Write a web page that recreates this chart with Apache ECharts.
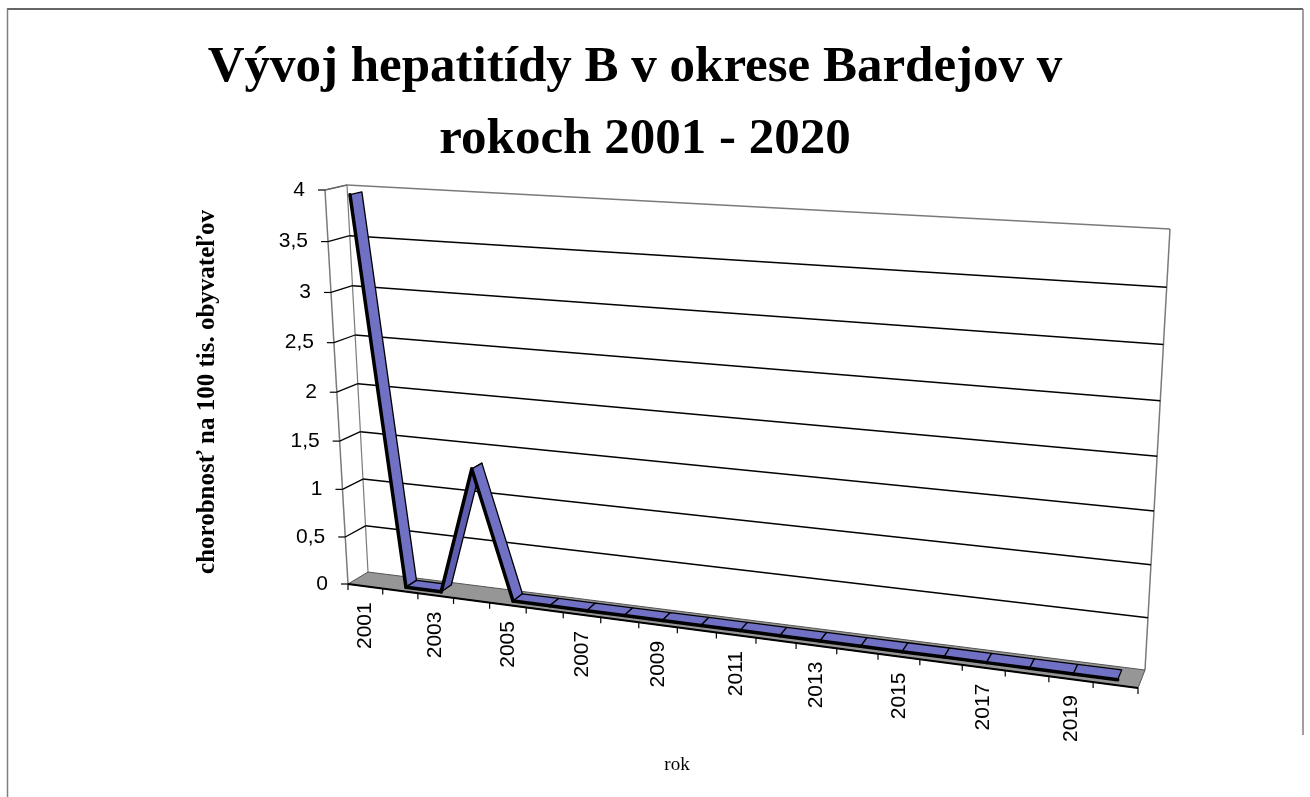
<!DOCTYPE html>
<html><head><meta charset="utf-8">
<script src="https://cdn.jsdelivr.net/npm/echarts@6/dist/echarts.min.js"></script>
<style>html,body{margin:0;padding:0;background:#fff}#c{width:1310px;height:797px}</style>
</head><body><div id="c"></div>
<script>
// ---------- data ----------
const years = ['2001','2002','2003','2004','2005','2006','2007','2008','2009','2010',
               '2011','2012','2013','2014','2015','2016','2017','2018','2019','2020'];
const values = [3.95, 0, 0, 1.32, 0, 0, 0, 0, 0, 0, 0, 0, 0, 0, 0, 0, 0, 0, 0, 0];
const yTickValues = [0, 0.5, 1, 1.5, 2, 2.5, 3, 3.5, 4];
const yTickLabels = ['0', '0,5', '1', '1,5', '2', '2,5', '3', '3,5', '4'];
const titleLines = ['Vývoj hepatitídy B v okrese Bardejov v', 'rokoch 2001 - 2020'];
const yAxisName = 'chorobnosť na 100 tis. obyvateľov';
const xAxisName = 'rok';

// ---------- perspective layout (front plane / back wall corners) ----------
const FRONT = {p00:[348,584], p10:[1138,688], p11:[1161,240], p01:[325,190]};
const BACK  = {p00:[368,572], p10:[1145,670], p11:[1170,229], p01:[347,185]};
const RIB_D0 = 0.3, RIB_D1 = 0.85;

function homography(q){
  const [x0,y0]=q.p00,[x1,y1]=q.p10,[x2,y2]=q.p11,[x3,y3]=q.p01;
  const sx=x0-x1+x2-x3, sy=y0-y1+y2-y3;
  const dx1=x1-x2, dx2=x3-x2, dy1=y1-y2, dy2=y3-y2;
  const det=dx1*dy2-dx2*dy1;
  const g=(sx*dy2-dx2*sy)/det, h=(dx1*sy-sx*dy1)/det;
  const a=x1-x0+g*x1, b=x3-x0+h*x3, c=x0, d=y1-y0+g*y1, e=y3-y0+h*y3, f=y0;
  return (u,v)=>{const w=g*u+h*v+1; return [(a*u+b*v+c)/w,(d*u+e*v+f)/w];};
}
const Hf = homography(FRONT), Hb = homography(BACK);
function P(u,v,d){ const a=Hf(u,v), b=Hb(u,v); return [a[0]+(b[0]-a[0])*d, a[1]+(b[1]-a[1])*d]; }

// map a data point through the (hidden) cartesian scales to unit coordinates
function unitOf(api, cat, val){
  const bw = api.size([1,0])[0];
  const c0 = api.coord([0, 0]);
  const left = c0[0] - bw/2, W = bw*years.length;
  const bottom = c0[1], top = api.coord([0, yTickValues[yTickValues.length-1]])[1];
  const p = api.coord([cat, val]);
  return {u:(p[0]-left)/W, v:(bottom-p[1])/(bottom-top), half:0.5/years.length};
}
const line = (a,b,stroke,lw)=>({type:'line',shape:{x1:a[0],y1:a[1],x2:b[0],y2:b[1]},style:{stroke:stroke,lineWidth:lw}});
const SANS = '"Liberation Sans", Arial, sans-serif';
const SERIF = '"Liberation Serif", "Times New Roman", serif';

const chart = echarts.init(document.getElementById('c'), null, {renderer:'canvas'});
chart.setOption({
  animation:false,
  backgroundColor:'#fff',
  grid:{left:100,right:100,top:100,bottom:100},
  xAxis:{type:'category',data:years,show:false},
  yAxis:{type:'value',min:0,max:4,interval:0.5,show:false},
  graphic:[
    {type:'line',shape:{x1:7,y1:9,x2:1303,y2:9},style:{stroke:'#333',lineWidth:1.5}},
    {type:'line',shape:{x1:7.5,y1:9,x2:7.5,y2:797},style:{stroke:'#808080',lineWidth:1.5}},
    {type:'line',shape:{x1:1303,y1:9,x2:1303,y2:735},style:{stroke:'#808080',lineWidth:1.5}},
    {type:'text',x:635,y:68,style:{text:titleLines[0],font:'bold 51px '+SERIF,fill:'#000',textAlign:'center',textVerticalAlign:'middle',align:'center',verticalAlign:'middle'}},
    {type:'text',x:645,y:140,style:{text:titleLines[1],font:'bold 51px '+SERIF,fill:'#000',textAlign:'center',textVerticalAlign:'middle',align:'center',verticalAlign:'middle'}},
    {type:'text',x:208,y:392,rotation:Math.PI/2,style:{text:yAxisName,font:'bold 25px '+SERIF,fill:'#000',textAlign:'center',textVerticalAlign:'middle',align:'center',verticalAlign:'middle'}},
    {type:'text',x:677,y:765,style:{text:xAxisName,font:'19px '+SERIF,fill:'#000',textAlign:'center',textVerticalAlign:'middle',align:'center',verticalAlign:'middle'}}
  ],
  series:[
    { // walls frame
      type:'custom', z:1, silent:true, clip:false,
      data:[[0,0]],
      renderItem:function(params, api){
        const g='#7a7a7a';
        return {type:'group',children:[
          line(P(0,1,0),P(0,1,1),g,1.2),
          line(P(0,1,1),P(0,0,1),g,1.2),
          line(P(0,1,1),P(1,1,1),g,1.5),
          line(P(1,1,1),P(1,0,1),g,1.5),
          line(P(0,1,0),P(0,0,0),g,1.5)
        ]};
      }
    },
    { // value gridlines, ticks and labels
      type:'custom', z:2, silent:true, clip:false,
      data:yTickValues.map(v=>[0,v]),
      renderItem:function(params, api){
        const t = unitOf(api, 0, api.value(1));
        const v = t.v;
        const ch = [];
        const f = P(0,v,0);
        if (v > 0.001 && v < 0.999){
          ch.push(line(P(0,v,1),P(1,v,1),'#000',1.5));
          ch.push(line(f,P(0,v,1),'#000',1.3));
        } else if (v >= 0.999){
          ch.push(line(f,P(0,v,1),'#666',1.3));
        }
        ch.push(line(f,[f[0]-7,f[1]],'#000',1.2));
        ch.push({type:'text',x:f[0]-20,y:f[1],style:{text:yTickLabels[params.dataIndex],font:'21px '+SANS,fill:'#000',
          textAlign:'right',textVerticalAlign:'middle',align:'right',verticalAlign:'middle'}});
        return {type:'group',children:ch};
      }
    },
    { // floor
      type:'custom', z:3, silent:true, clip:false,
      data:[[0,0]],
      renderItem:function(params, api){
        const a=P(0,0,0), b=P(1,0,0), c=P(1,0,1), d=P(0,0,1);
        return {type:'group',children:[
          {type:'polygon',shape:{points:[a,b,c,d]},style:{fill:'#969696',stroke:'#555',lineWidth:1}},
          line(a,b,'#000',2)
        ]};
      }
    },
    { // ribbon (3D line)
      type:'custom', z:4, silent:true, clip:false,
      data:values.slice(0,-1).map((v,i)=>[i,v,values[i+1]]),
      renderItem:function(params, api){
        const i = api.value(0);
        const A = unitOf(api, i, api.value(1));
        const B = unitOf(api, i+1, api.value(2));
        const a0=P(A.u,A.v,RIB_D0), b0=P(B.u,B.v,RIB_D0), b1=P(B.u,B.v,RIB_D1), a1=P(A.u,A.v,RIB_D1);
        const rising = B.v > A.v + 1e-6;
        return {type:'group',children:[
          {type:'polygon',shape:{points:[a0,b0,b1,a1]},style:{fill:rising?'#5e5eb0':'#7070c4',stroke:'#000',lineWidth:1.3,lineJoin:'round'}},
          {type:'line',shape:{x1:a0[0],y1:a0[1],x2:b0[0],y2:b0[1]},style:{stroke:'#000',lineWidth:3.5,lineCap:'round'}}
        ]};
      }
    },
    { // category axis: ticks + labels on the front floor edge
      type:'custom', z:5, silent:true, clip:false,
      data:years.map((y,i)=>[i,0]),
      renderItem:function(params, api){
        const i = api.value(0);
        const t = unitOf(api, i, 0);
        const ch = [];
        const l = P(t.u - t.half, 0, 0);
        ch.push(line(l,[l[0],l[1]+6],'#000',1.2));
        if (i === years.length-1){
          const r = P(t.u + t.half, 0, 0);
          ch.push(line(r,[r[0],r[1]+6],'#000',1.2));
        }
        if (i % 2 === 0){
          const c = P(t.u, 0, 0);
          ch.push({type:'text',x:c[0],y:c[1]+16,rotation:Math.PI/2,style:{text:years[i],font:'21px '+SANS,fill:'#000',
            textAlign:'right',textVerticalAlign:'middle',align:'right',verticalAlign:'middle'}});
        }
        return {type:'group',children:ch};
      }
    }
  ]
});
</script>
</body></html>
